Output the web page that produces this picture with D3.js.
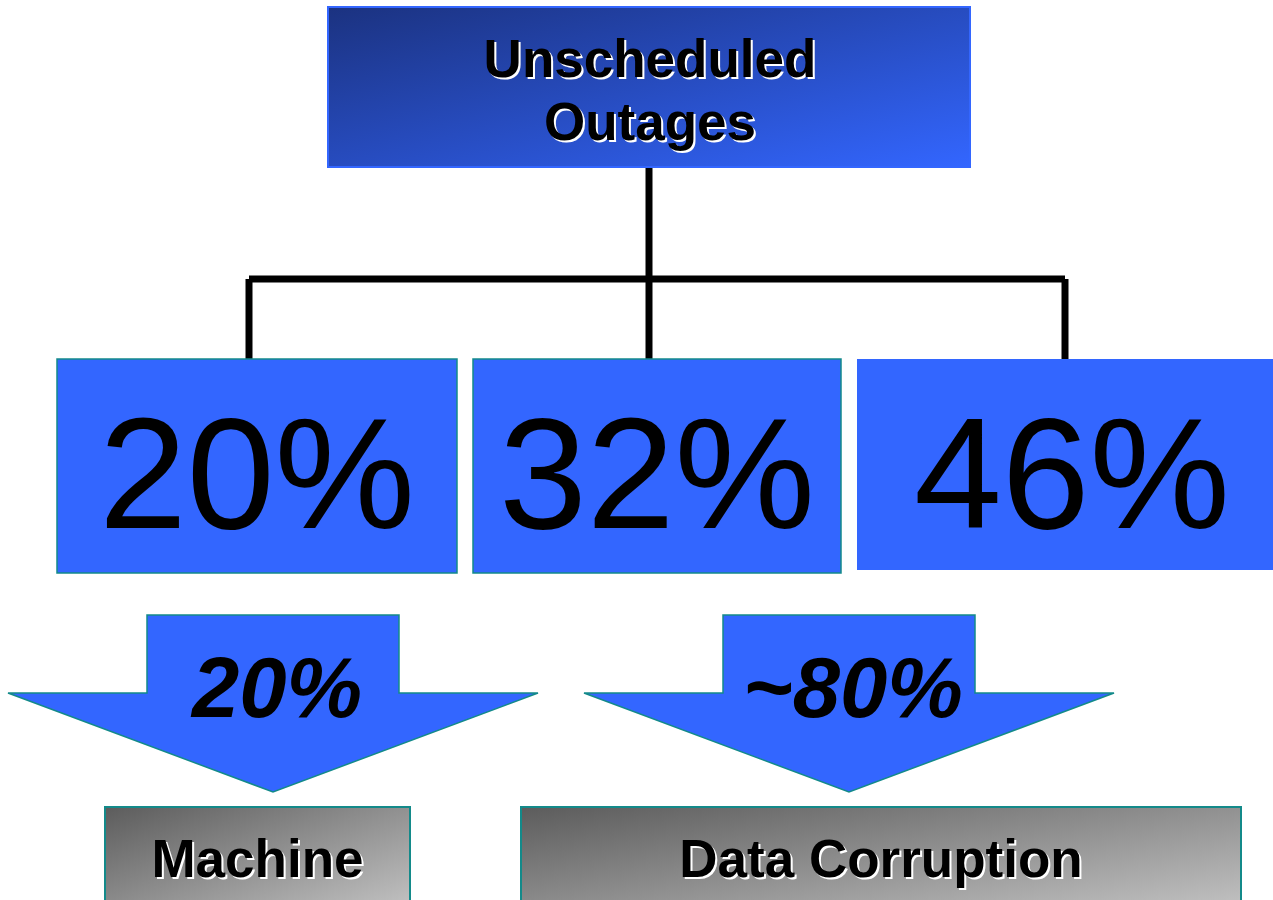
<!DOCTYPE html>
<html>
<head>
<meta charset="utf-8">
<script src="https://cdn.jsdelivr.net/npm/d3@7"></script>
<style>
  body { margin: 0; background: #fff; }
  svg { display: block; font-family: "Liberation Sans", Arial, sans-serif; }
</style>
</head>
<body>
<div id="chart"></div>
<script>
// data
const rootLabel = ['Unscheduled', 'Outages'];
const branchLabels = ['20%', '32%', '46%'];
const arrowLabels = ['20%', '~80%'];
const causeLabels = ['Machine', 'Data Corruption'];

const WIDTH = 1273, HEIGHT = 900;
const BLUE = '#3366ff', TEAL = '#138a8a';

const svg = d3.select('#chart').append('svg')
    .attr('width', WIDTH)
    .attr('height', HEIGHT);

const defs = svg.append('defs');

const blueGrad = defs.append('linearGradient')
    .attr('id', 'blueGrad')
    .attr('x1', 0).attr('y1', 0).attr('x2', 1).attr('y2', 1);
blueGrad.append('stop').attr('offset', '0%').attr('stop-color', '#1b3280');
blueGrad.append('stop').attr('offset', '100%').attr('stop-color', '#3366ff');

const grayGrad = defs.append('linearGradient')
    .attr('id', 'grayGrad')
    .attr('x1', 0).attr('y1', 0).attr('x2', 1).attr('y2', 1);
grayGrad.append('stop').attr('offset', '0%').attr('stop-color', '#5c5c5c');
grayGrad.append('stop').attr('offset', '100%').attr('stop-color', '#c6c6c6');

// scales (boxes are not all the same width, so ordinal extents)
const boxX = d3.scaleOrdinal()
    .domain(branchLabels)
    .range([[57, 457], [473, 841], [857, 1273]]);

const dropX = d3.scaleOrdinal()
    .domain(branchLabels)
    .range([249, 649, 1065]);

const arrowX = d3.scalePoint()
    .domain(arrowLabels)
    .range([273, 849]);

const causeX = d3.scaleOrdinal()
    .domain(causeLabels)
    .range([[105, 410], [521, 1241]]);

// label with white drop shadow
function shadowText(g, x, y, text, size) {
    g.append('text')
        .attr('x', x + 2).attr('y', y + 2)
        .attr('text-anchor', 'middle')
        .attr('font-size', size).attr('font-weight', 'bold')
        .attr('fill', '#fff')
        .text(text);
    g.append('text')
        .attr('x', x).attr('y', y)
        .attr('text-anchor', 'middle')
        .attr('font-size', size).attr('font-weight', 'bold')
        .attr('fill', '#000')
        .text(text);
}

// connectors
const midX = dropX(branchLabels[1]);
const lines = svg.append('g')
    .attr('stroke', '#000')
    .attr('stroke-width', 7)
    .attr('fill', 'none');

lines.append('line')
    .attr('x1', midX).attr('x2', midX)
    .attr('y1', 167).attr('y2', 279);

lines.append('line')
    .attr('x1', dropX(branchLabels[0]))
    .attr('x2', dropX(branchLabels[2]))
    .attr('y1', 279).attr('y2', 279);

lines.selectAll('.drop')
    .data(branchLabels)
    .join('line')
    .attr('class', 'drop')
    .attr('x1', d => dropX(d)).attr('x2', d => dropX(d))
    .attr('y1', 279).attr('y2', 360);

// root box
const root = svg.append('g');
root.append('rect')
    .attr('x', midX - 321).attr('y', 7)
    .attr('width', 642).attr('height', 160)
    .attr('fill', 'url(#blueGrad)')
    .attr('stroke', BLUE)
    .attr('stroke-width', 2);

rootLabel.forEach((t, i) => shadowText(root, midX + 1, 77 + i * 63, t, 53));

// branch boxes
const branches = svg.selectAll('.branch')
    .data(branchLabels)
    .join('g')
    .attr('class', 'branch');

branches.append('rect')
    .attr('x', d => boxX(d)[0])
    .attr('y', 359)
    .attr('width', d => boxX(d)[1] - boxX(d)[0])
    .attr('height', (d, i) => i === 2 ? 211 : 214)
    .attr('fill', BLUE)
    .attr('stroke', (d, i) => i === 2 ? 'none' : TEAL)
    .attr('stroke-width', 1.5);

branches.append('text')
    .attr('x', (d, i) => (boxX(d)[0] + boxX(d)[1]) / 2 + (i === 2 ? 7 : 0))
    .attr('y', 528)
    .attr('text-anchor', 'middle')
    .attr('font-size', 158)
    .attr('fill', '#000')
    .text(d => d);

// arrows
const arrowPath = cx => {
    const shaft = 126, wing = 265;
    return `M${cx - shaft},615 L${cx + shaft},615 L${cx + shaft},693 L${cx + wing},693 ` +
        `L${cx},792 L${cx - wing},693 L${cx - shaft},693 Z`;
};

const arrows = svg.selectAll('.arrow')
    .data(arrowLabels)
    .join('g')
    .attr('class', 'arrow');

arrows.append('path')
    .attr('d', d => arrowPath(arrowX(d)))
    .attr('fill', BLUE)
    .attr('stroke', TEAL)
    .attr('stroke-width', 1.5)
    .attr('stroke-linejoin', 'miter');

arrows.append('text')
    .attr('x', d => arrowX(d) + 4)
    .attr('y', 717)
    .attr('text-anchor', 'middle')
    .attr('font-size', 85)
    .attr('font-weight', 'bold')
    .attr('font-style', 'italic')
    .attr('fill', '#000')
    .text(d => d);

// cause boxes
const causes = svg.selectAll('.cause')
    .data(causeLabels)
    .join('g')
    .attr('class', 'cause');

causes.append('rect')
    .attr('x', d => causeX(d)[0])
    .attr('y', 807)
    .attr('width', d => causeX(d)[1] - causeX(d)[0])
    .attr('height', 110)
    .attr('fill', 'url(#grayGrad)')
    .attr('stroke', TEAL)
    .attr('stroke-width', 2);

causes.each(function(d) {
    const [x0, x1] = causeX(d);
    shadowText(d3.select(this), (x0 + x1) / 2, 877, d, 53);
});
</script>
</body>
</html>
